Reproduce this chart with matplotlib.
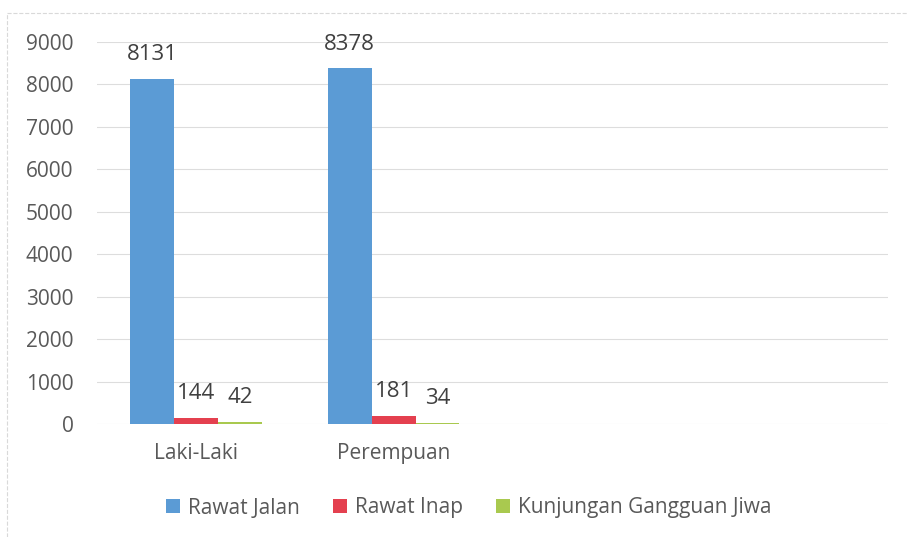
import matplotlib
matplotlib.use("Agg")
import matplotlib.pyplot as plt
from matplotlib.lines import Line2D
import numpy as np

categories = ["Laki-Laki", "Perempuan", "", ""]
series_names = ["Rawat Jalan", "Rawat Inap", "Kunjungan Gangguan Jiwa"]
rawat_jalan = [8131, 8378, None, None]
rawat_inap = [144, 181, None, None]
gangguan_jiwa = [42, 34, None, None]
y_ticks = [0, 1000, 2000, 3000, 4000, 5000, 6000, 7000, 8000, 9000]

colors = ["#5B9BD5", "#E4404F", "#A9C94F"]
text_color = "#595959"

plt.rcParams['font.family'] = ['Open Sans', 'DejaVu Sans']

fig = plt.figure(figsize=(9.07, 5.37), dpi=100)
ax = fig.add_axes([97/907, 1-424/537, (888-97)/907, (424-42)/537])

x = np.arange(len(categories))
w = 0.222
all_series = [rawat_jalan, rawat_inap, gangguan_jiwa]
for i, (vals, name, c) in enumerate(zip(all_series, series_names, colors)):
    xs = [xi + (i-1)*w for xi, v in zip(x, vals) if v is not None]
    vs = [v for v in vals if v is not None]
    bars = ax.bar(xs, vs, width=w, color=c, label=name, zorder=3)
    for b, v in zip(bars, vs):
        ax.annotate(str(v), (b.get_x()+b.get_width()/2, v), xytext=(0, 10),
                    textcoords="offset points", ha="center", va="bottom",
                    fontsize=16, color="#404040")

ax.set_xlim(-0.5, len(categories)-0.5)
ax.set_ylim(0, 9000)
ax.set_yticks(y_ticks)
ax.set_yticklabels([str(t) for t in y_ticks], fontsize=15, color=text_color)
ax.set_xticks(x)
ax.set_xticklabels(categories, fontsize=15, color=text_color)
ax.tick_params(axis='both', length=0)
ax.tick_params(axis='y', pad=17)
ax.tick_params(axis='x', pad=14)
ax.grid(axis='y', color="#DDDDDD", linewidth=0.8, zorder=0)
for s in ax.spines.values():
    s.set_visible(False)

leg = fig.legend(loc="center", bbox_to_anchor=(469/907, 1-508/537), ncol=3,
                 frameon=False, fontsize=15, handlelength=0.65, handleheight=0.65,
                 columnspacing=1.6, handletextpad=0.4)
for t in leg.get_texts():
    t.set_color(text_color)

fig.add_artist(Line2D([7/907, 1], [1-13/537, 1-13/537], color="#D9D9D9", lw=0.8, ls="--"))
fig.add_artist(Line2D([7/907, 7/907], [0, 1-13/537], color="#D9D9D9", lw=0.8, ls="--"))

fig.savefig("out.png", dpi=100)
